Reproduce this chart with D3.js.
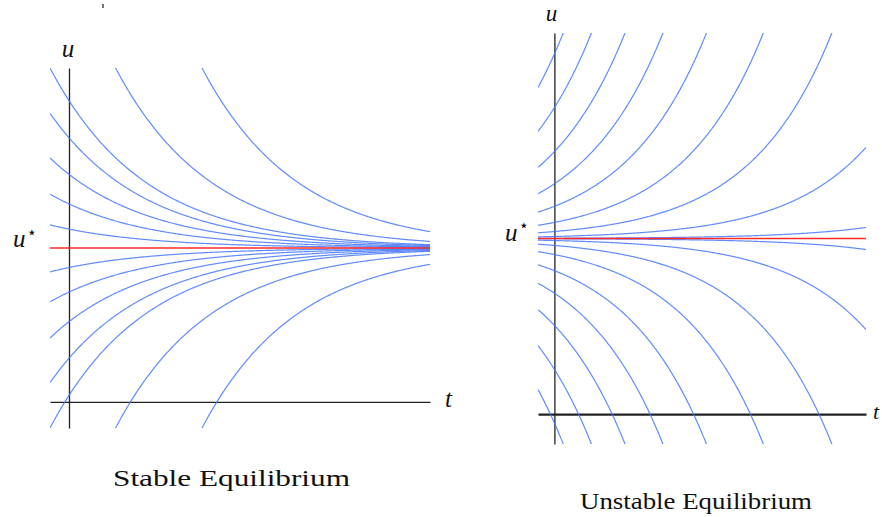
<!DOCTYPE html>
<html>
<head>
<meta charset="utf-8">
<script src="https://cdn.jsdelivr.net/npm/d3@7"></script>
<style>
  html, body { margin: 0; padding: 0; background: #fff; }
  svg { display: block; }
  .lbl { font-family: "Liberation Serif", "DejaVu Serif", serif; font-style: italic; fill: #111; }
  .cap { font-family: "Liberation Serif", "DejaVu Serif", serif; fill: #111; }
  .axis path { stroke: #222; }
</style>
</head>
<body>
<svg id="chart" width="882" height="517"></svg>
<script>
// Equilibrium value and the time / state window shared by both panels
const uStar = 2;
const tDomain = [-0.2, 3.8];
const uDomain = [-0.34, 4.34];

// Stable panel: solution curves u' = -(u - u*), each given by one point (t0, u0)
const stableT0 = [-0.2, -0.2, -0.2, -0.2, -0.2, -0.2, -0.2, -0.2, -0.2, -0.2, 0.49, 1.40, 0.49, 1.40];
const stableU0 = [4.34, 3.75, 3.17, 2.70, 2.30, 1.69, 1.30, 0.83, 0.25, -0.34, 4.34, 4.34, -0.34, -0.34];

// Unstable panel: solution curves u' = (u - u*), starting values at t = -0.2
const unstableT0 = [-0.2, -0.2, -0.2, -0.2, -0.2, -0.2, -0.2, -0.2, -0.2,
                    -0.2, -0.2, -0.2, -0.2, -0.2, -0.2, -0.2, -0.2, -0.2];
const unstableU0 = [3.72, 3.22, 2.81, 2.51, 2.30, 2.15, 2.065, 2.019, 2.0023,
                    0.28, 0.78, 1.19, 1.49, 1.70, 1.85, 1.935, 1.981, 1.9977];

// Text drawn on the figure
const captions = ["Stable Equilibrium", "Unstable Equilibrium"];
const axisNames = { vertical: "u", horizontal: "t", equilibrium: "u" };

const svg = d3.select("#chart");
svg.append("rect").attr("width", 882).attr("height", 517).attr("fill", "#fff");

const panels = [
  { id: "stable", x: [50, 430], y: [428, 68], sign: -1, t0: stableT0, u0: stableU0, vColor: "#222", hColor: "#222", hWidth: 1.4 },
  { id: "unstable", x: [538, 866], y: [444, 33], sign: 1, t0: unstableT0, u0: unstableU0, vColor: "#111", hColor: "#555", hWidth: 2.2 }
];

const samples = d3.range(0, 401).map(i => tDomain[0] + (tDomain[1] - tDomain[0]) * i / 400);

panels.forEach(p => {
  const x = d3.scaleLinear().domain(tDomain).range(p.x);
  const y = d3.scaleLinear().domain(uDomain).range(p.y);
  p.xs = x; p.ys = y;

  const g = svg.append("g");
  g.append("clipPath").attr("id", "clip-" + p.id)
    .append("rect")
    .attr("x", p.x[0]).attr("y", p.y[1])
    .attr("width", p.x[1] - p.x[0]).attr("height", p.y[0] - p.y[1]);

  // Axes through the origin, no ticks
  g.append("g").attr("class", "axis")
    .attr("transform", `translate(0,${y(0)})`)
    .call(d3.axisBottom(x).tickValues([]).tickSizeOuter(0))
    .select("path").attr("stroke", p.hColor).attr("stroke-width", p.hWidth);
  g.append("g").attr("class", "axis")
    .attr("transform", `translate(${x(0)},0)`)
    .call(d3.axisLeft(y).tickValues([]).tickSizeOuter(0))
    .select("path").attr("stroke", p.vColor).attr("stroke-width", 1.3);

  const line = d3.line().x(d => x(d[0])).y(d => y(d[1]));
  const curves = p.t0.map((t0, i) => {
    const c = p.u0[i] - uStar;
    return samples.map(t => [t, uStar + c * Math.exp(p.sign * (t - t0))]);
  });

  const cg = g.append("g").attr("clip-path", `url(#clip-${p.id})`);
  cg.selectAll("path.sol").data(curves).join("path")
    .attr("class", "sol")
    .attr("d", d => line(d.map(q => [q[0], Math.max(-50, Math.min(50, q[1]))])))
    .attr("fill", "none")
    .attr("stroke", "#4577ff")
    .attr("stroke-opacity", 0.85)
    .attr("stroke-width", 1.2);

  // Equilibrium line
  g.append("path")
    .attr("d", line([[tDomain[0], uStar], [tDomain[1], uStar]]))
    .attr("stroke", "#ff2a2a").attr("stroke-width", 1.3).attr("fill", "none");
});

// Labels
const L = panels[0], R = panels[1];
svg.append("text").attr("class", "lbl").attr("x", L.xs(0) - 1).attr("y", 57)
  .attr("text-anchor", "middle").attr("font-size", 25).text(axisNames.vertical);
svg.append("text").attr("class", "lbl").attr("x", 445).attr("y", 407)
  .attr("font-size", 25).text(axisNames.horizontal);
const ls = svg.append("text").attr("class", "lbl").attr("x", 13).attr("y", L.ys(uStar) - 1).attr("font-size", 25);
ls.append("tspan").text(axisNames.equilibrium);
ls.append("tspan").attr("dx", 1).attr("dy", -9).attr("font-size", 17)
  .attr("font-style", "normal").style("font-family", "DejaVu Sans").text("⋆");

svg.append("text").attr("class", "lbl").attr("x", R.xs(0) - 3).attr("y", 21)
  .attr("text-anchor", "middle").attr("font-size", 23).text(axisNames.vertical);
svg.append("text").attr("class", "lbl").attr("x", 873).attr("y", 419)
  .attr("font-size", 22).text(axisNames.horizontal);
const rs = svg.append("text").attr("class", "lbl").attr("x", 505).attr("y", R.ys(uStar) + 2).attr("font-size", 25);
rs.append("tspan").text(axisNames.equilibrium);
rs.append("tspan").attr("dx", 1).attr("dy", -10).attr("font-size", 17)
  .attr("font-style", "normal").style("font-family", "DejaVu Sans").text("⋆");

// Captions
svg.append("text").attr("class", "cap").attr("x", 113).attr("y", 486)
  .attr("font-size", 24).attr("textLength", 237).attr("lengthAdjust", "spacingAndGlyphs")
  .text(captions[0]);
svg.append("text").attr("class", "cap").attr("x", 580).attr("y", 509)
  .attr("font-size", 24).attr("textLength", 232).attr("lengthAdjust", "spacingAndGlyphs")
  .text(captions[1]);

// Small stray tick near the top
svg.append("rect").attr("x", 102).attr("y", 4).attr("width", 2).attr("height", 4).attr("fill", "#777");
</script>
</body>
</html>
